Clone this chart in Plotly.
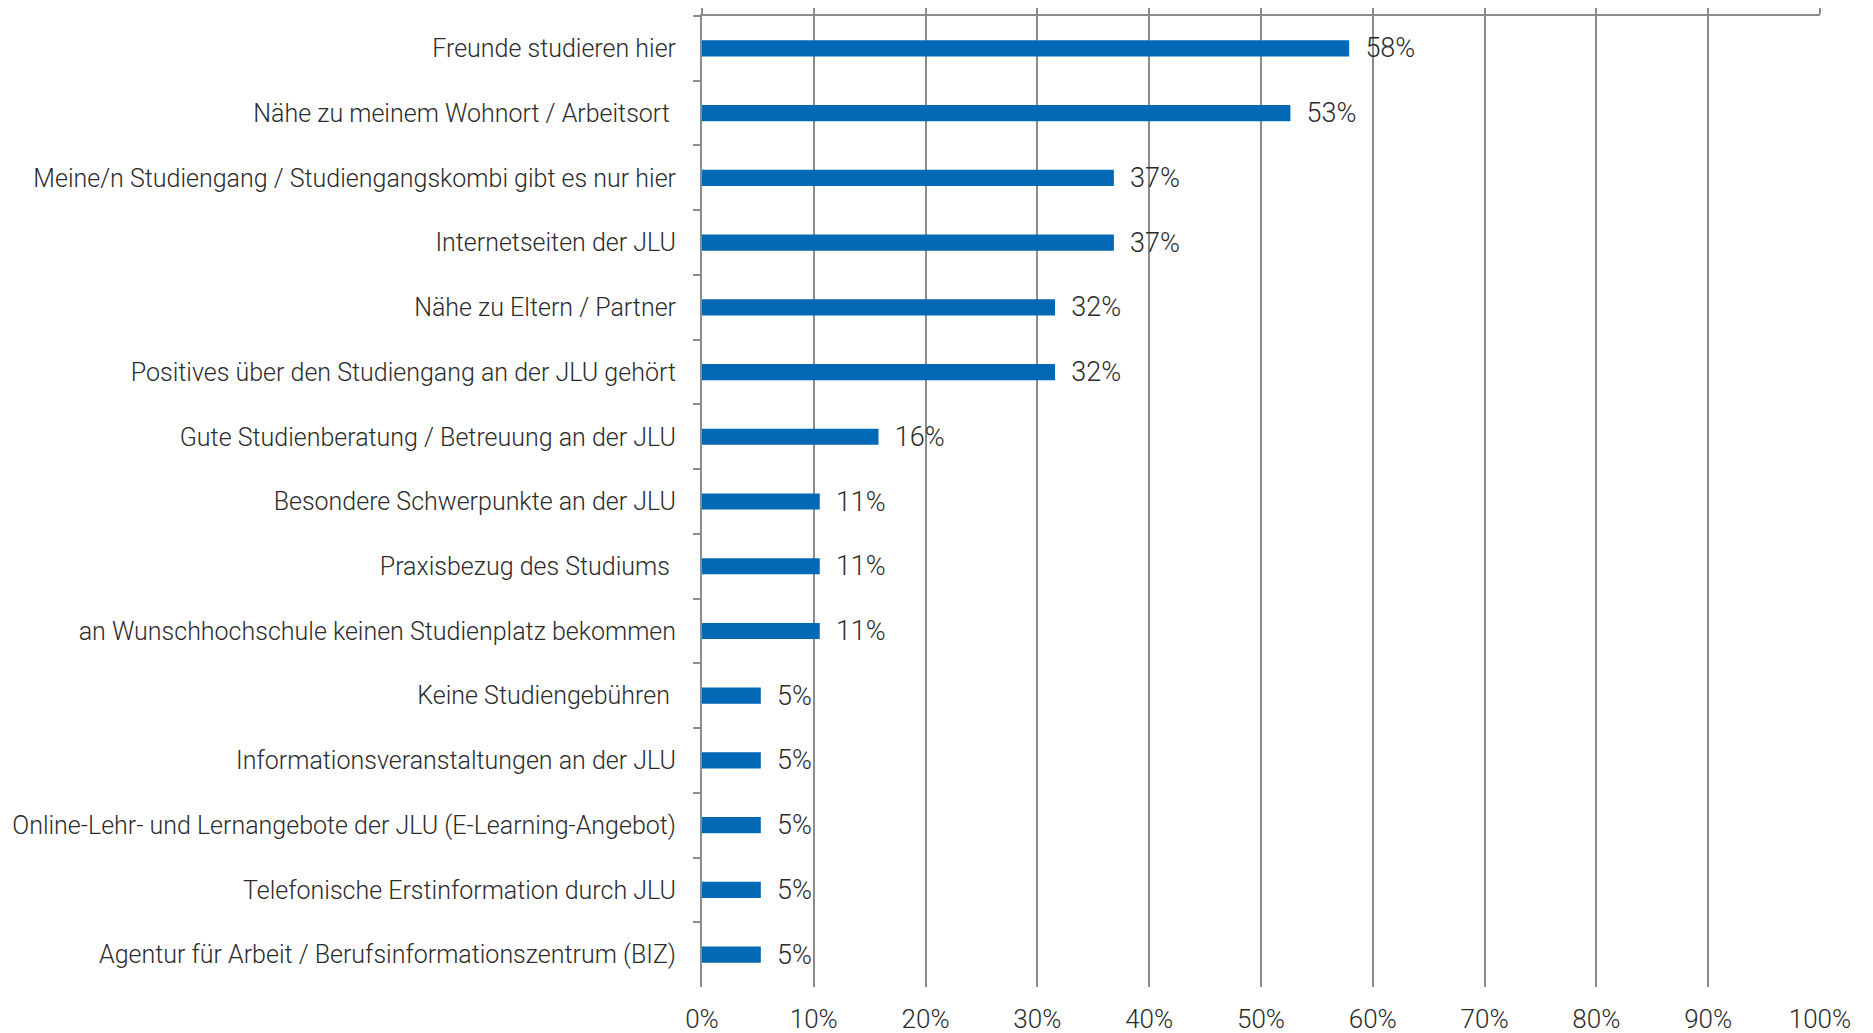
import plotly.graph_objects as go

categories = [
    "Freunde studieren hier",
    "Nähe zu meinem Wohnort / Arbeitsort\u00a0",
    "Meine/n Studiengang / Studiengangskombi gibt es nur hier",
    "Internetseiten der JLU",
    "Nähe zu Eltern / Partner",
    "Positives über den Studiengang an der JLU gehört",
    "Gute Studienberatung / Betreuung an der JLU",
    "Besondere Schwerpunkte an der JLU",
    "Praxisbezug des Studiums\u00a0",
    "an Wunschhochschule keinen Studienplatz bekommen",
    "Keine Studiengebühren\u00a0",
    "Informationsveranstaltungen an der JLU",
    "Online-Lehr- und Lernangebote der JLU (E-Learning-Angebot)",
    "Telefonische Erstinformation durch JLU",
    "Agentur für Arbeit / Berufsinformationszentrum (BIZ)",
]
values = [57.89, 52.63, 36.84, 36.84, 31.58, 31.58, 15.79, 10.53, 10.53, 10.53,
          5.26, 5.26, 5.26, 5.26, 5.26]
x_ticks = [0, 10, 20, 30, 40, 50, 60, 70, 80, 90, 100]
x_tick_labels = [f"{t}%" for t in x_ticks]

FONT = "Roboto, Arial, sans-serif"
TXT = "#2b2b2b"
GRID = "#8c8c8c"
BAR = "#0068b4"
W = 300

fig = go.Figure()
fig.add_trace(go.Bar(
    x=values, y=categories, orientation="h",
    marker=dict(color=BAR, line=dict(width=0)),
    text=[f"  {round(v)}%" for v in values],
    textposition="outside", cliponaxis=False, constraintext="none",
    textfont=dict(family=FONT, size=27, color=TXT, weight=W),
    width=0.25,
))
# invisible trace so the top axis is drawn
fig.add_trace(go.Scatter(x=[0, 100], y=[categories[0], categories[0]], xaxis="x2",
                         mode="markers", marker=dict(opacity=0), hoverinfo="skip",
                         showlegend=False))

fig.update_layout(
    width=1865, height=1025,
    margin=dict(l=694, r=53, t=8, b=46, autoexpand=False),
    paper_bgcolor="white", plot_bgcolor="white",
    showlegend=False,
    font=dict(family=FONT, size=25, color=TXT, weight=W),
    xaxis=dict(range=[0, 100], tickvals=x_ticks, ticktext=x_tick_labels,
               showgrid=True, gridcolor=GRID, gridwidth=2, zeroline=False,
               showline=False, ticks="", ticklabelstandoff=14,
               tickfont=dict(family=FONT, size=26, color=TXT, weight=W)),
    xaxis2=dict(range=[0, 100], overlaying="x", side="top", tickvals=x_ticks,
                showticklabels=False, showgrid=False, zeroline=False,
                showline=True, linecolor=GRID, linewidth=2,
                ticks="outside", ticklen=7, tickcolor=GRID, tickwidth=2),
    yaxis=dict(categoryorder="array", categoryarray=categories,
               range=[len(categories) - 0.5, -0.5], autorange=False,
               showline=True, linecolor=GRID, linewidth=2,
               ticks="outside", ticklen=7, tickcolor=GRID, tickwidth=2,
               tickson="boundaries", showgrid=False, ticklabelstandoff=19,
               tickfont=dict(family=FONT, size=25, color=TXT, weight=W)),
)
fig.write_html("out.html")
